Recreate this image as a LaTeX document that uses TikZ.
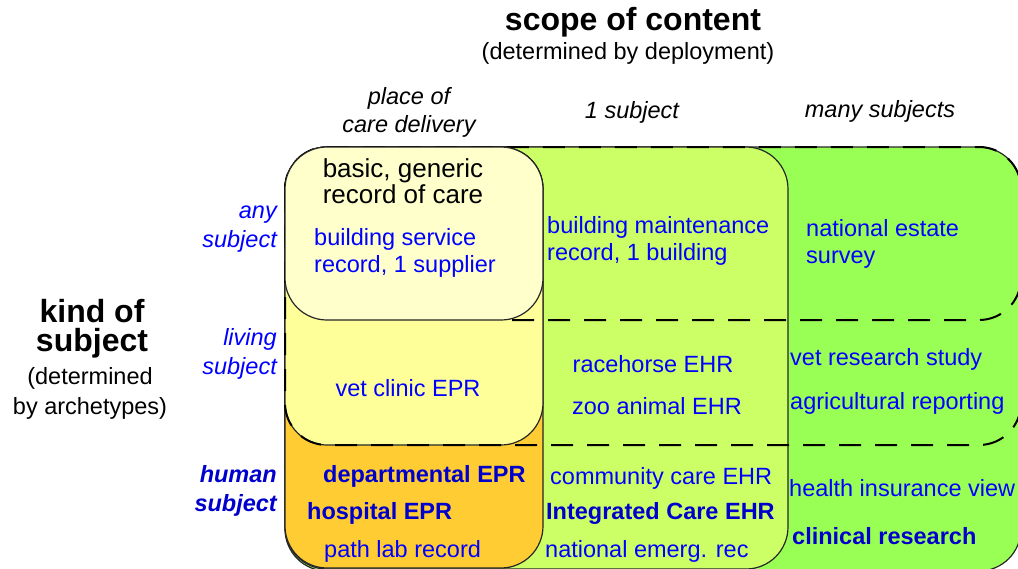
\documentclass[tikz,border=0pt]{standalone}
\usepackage{fontspec}
\setmainfont{Liberation Sans}
\definecolor{creamfill}{HTML}{FFFFCC}
\definecolor{yellowfill}{HTML}{FFFF99}
\definecolor{orangefill}{HTML}{FFCC33}
\definecolor{limefill}{HTML}{CCFF66}
\definecolor{greenfill}{HTML}{99FF55}
\definecolor{entryblue}{HTML}{0000FF}
\definecolor{strongblue}{HTML}{0000CC}
\tikzset{
  box/.style={draw=black!85, line width=1.2pt, rounded corners=42pt},
  rowline/.style={draw=black, line width=2pt, dash pattern=on 22pt off 14pt, rounded corners=42pt},
  txt/.style={inner sep=0pt, font=\fontsize{23.5}{26.5}\selectfont},
  entry/.style={txt, text=entryblue, align=left, anchor=west},
  strongentry/.style={entry, text=strongblue, font=\fontsize{23.5}{26.5}\selectfont\bfseries},
  rowhead/.style={txt, text=entryblue, align=right, anchor=east, font=\fontsize{23.5}{29}\selectfont\itshape},
  colhead/.style={txt, align=center, font=\fontsize{23.5}{28}\selectfont\itshape},
  head/.style={txt, align=center, font=\fontsize{32}{29}\selectfont\bfseries},
}
\begin{document}
\begin{tikzpicture}[x=1pt,y=-1pt]
  \useasboundingbox (0,0) rectangle (1018,568);
  \clip (0,0) rectangle (1018,568);

  % columns: scope of content
  \draw[box, fill=greenfill] (285,147) rectangle (1021,571);
  \draw[box, fill=limefill] (285,147) rectangle (788,569);
  \draw[box, fill=orangefill] (285,147) rectangle (543,568);
  \draw[box, fill=yellowfill] (285,147) rectangle (543,445);
  % rows: kind of subject
  \draw[rowline] (285,147) rectangle (1021,445);
  \draw[rowline] (512,320) -- (1021,320) -- (1021,147);
  \draw[box, fill=creamfill] (285,147) rectangle (543,320);

  % headings
  \node[head] (scope) at (633,22) {scope of content};
  \node[txt] (scopenote) at (628,53) {(determined by deployment)};
  \node[colhead] (place) at (409,112) {place of\\care delivery};
  \node[colhead] (onesub) at (632,112) {1 subject};
  \node[colhead] (manysub) at (880,111) {many subjects};

  \node[head] (kind) at (92,329) {kind of\\subject};
  \node[txt, align=center, font=\fontsize{23.5}{30}\selectfont] (kindnote) at (90,393) {(determined\\by archetypes)};
  \node[rowhead] (anysub) at (277,229) {any\\subject};
  \node[rowhead] (livsub) at (277,354) {living\\subject};
  \node[rowhead, text=strongblue, font=\fontsize{23.5}{29}\selectfont\bfseries\itshape] (humsub) at (277,491) {human\\subject};

  % any subject
  \node[txt, align=center, font=\fontsize{26}{26}\selectfont] (basic) at (403,181) {basic, generic\\record of care};
  \node[entry] (bsr) at (314,253) {building service\\record, 1 supplier};
  \node[entry] (bmr) at (547,241) {building maintenance\\record, 1 building};
  \node[entry] (nes) at (806,244) {national estate\\survey};

  % living subject
  \node[entry, anchor=center] (vce) at (408,388) {vet clinic EPR};
  \node[entry, anchor=center] (rh) at (653,364) {racehorse EHR};
  \node[entry, anchor=center] (zoo) at (657,406) {zoo animal EHR};
  \node[entry] (vrs) at (790,359) {vet research study};
  \node[entry] (agr) at (790,403) {agricultural reporting};

  % human subject
  \node[strongentry] (dep) at (323,476) {departmental EPR};
  \node[strongentry] (hos) at (307,513) {hospital EPR};
  \node[entry] (plr) at (324,551) {path lab record};
  \node[entry] (cce) at (550,478) {community care EHR};
  \node[strongentry] (ice) at (546,513) {Integrated Care EHR};
  \node[entry] (ner) at (545,551) {national emerg. rec};
  \node[entry] (hiv) at (789,488) {health insurance view};
  \node[strongentry] (clr) at (792,536) {clinical research};
\end{tikzpicture}
\end{document}
